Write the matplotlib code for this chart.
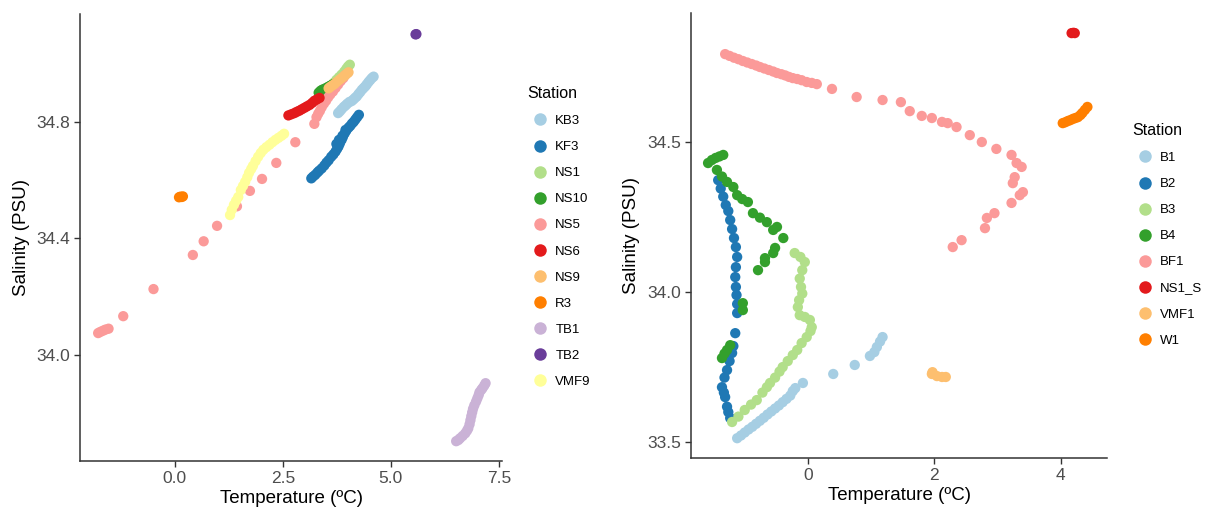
import matplotlib
matplotlib.use("Agg")
import matplotlib.pyplot as plt
from matplotlib.lines import Line2D

plt.rcParams['font.family'] = ['Liberation Sans', 'DejaVu Sans']

# ---------------- Left panel data ----------------
left_stations = ["KB3", "KF3", "NS1", "NS10", "NS5", "NS6", "NS9", "R3", "TB1", "TB2", "VMF9"]
left_colors = ["#A6CEE3", "#1F78B4", "#B2DF8A", "#33A02C", "#FB9A99", "#E31A1C",
               "#FDBF6F", "#FF7F00", "#CAB2D6", "#6A3D9A", "#FFFF99"]

KB3_T = [3.78, 3.82, 3.86, 3.91, 3.95, 3.99, 4.04, 4.09, 4.13, 4.17, 4.21, 4.25, 4.29, 4.33, 4.37, 4.41, 4.44, 4.48, 4.52, 4.56, 4.60]
KB3_S = [34.830, 34.836, 34.843, 34.851, 34.856, 34.862, 34.868, 34.871, 34.876, 34.882, 34.887, 34.895, 34.902, 34.910, 34.916, 34.922, 34.928, 34.936, 34.943, 34.950, 34.955]

KF3_T = [3.16, 3.20, 3.25, 3.30, 3.34, 3.40, 3.46, 3.51, 3.56, 3.62, 3.67, 3.72, 3.76, 3.79, 3.82, 3.86, 3.89, 3.93, 3.97, 4.02, 4.06, 4.10, 4.14, 4.18, 4.22, 4.26, 3.74, 3.80, 3.88, 3.95]
KF3_S = [34.606, 34.612, 34.618, 34.626, 34.632, 34.640, 34.650, 34.660, 34.668, 34.680, 34.688, 34.698, 34.708, 34.716, 34.726, 34.738, 34.748, 34.760, 34.770, 34.780, 34.786, 34.794, 34.800, 34.808, 34.816, 34.824, 34.724, 34.738, 34.752, 34.772]

NS1_T = [3.62, 3.68, 3.74, 3.80, 3.86, 3.92, 3.97, 4.01, 4.05]
NS1_S = [34.925, 34.934, 34.944, 34.953, 34.962, 34.972, 34.982, 34.990, 34.996]

NS10_T = [3.33, 3.37, 3.41, 3.45, 3.50, 3.55, 3.60, 3.65, 3.70, 3.74]
NS10_S = [34.900, 34.906, 34.910, 34.912, 34.916, 34.920, 34.924, 34.928, 34.931, 34.934]

NS5_T = [-1.77, -1.72, -1.66, -1.60, -1.53, -1.19, -0.49, 0.42, 0.67, 0.98, 1.44, 1.74, 2.02, 2.35, 2.79, 3.23,
         3.28, 3.32, 3.36, 3.40, 3.45, 3.50, 3.55, 3.60, 3.66, 3.72, 3.78, 3.84, 3.90, 3.94]
NS5_S = [34.075, 34.079, 34.083, 34.087, 34.090, 34.133, 34.226, 34.343, 34.390, 34.443, 34.510, 34.563, 34.604, 34.659, 34.730, 34.793,
         34.816, 34.828, 34.838, 34.850, 34.862, 34.872, 34.884, 34.894, 34.904, 34.916, 34.928, 34.940, 34.950, 34.960]

NS6_T = [2.63, 2.70, 2.77, 2.82, 2.88, 2.94, 3.00, 3.06, 3.12, 3.18, 3.23, 3.29, 3.35]
NS6_S = [34.822, 34.826, 34.830, 34.834, 34.838, 34.843, 34.848, 34.853, 34.858, 34.865, 34.872, 34.877, 34.882]

NS9_T = [3.56, 3.60, 3.65, 3.70, 3.75, 3.81, 3.86, 3.91, 3.95, 3.99, 4.02]
NS9_S = [34.915, 34.920, 34.925, 34.930, 34.937, 34.944, 34.950, 34.956, 34.961, 34.966, 34.970]

R3_T = [0.10, 0.13, 0.16, 0.19]
R3_S = [34.541, 34.543, 34.542, 34.544]

TB1_T = [6.51, 6.56, 6.60, 6.66, 6.72, 6.76, 6.79, 6.82, 6.84, 6.86, 6.88, 6.90, 6.93, 6.97, 7.00, 7.03, 7.05, 7.09, 7.12, 7.16, 7.19]
TB1_S = [33.704, 33.708, 33.714, 33.722, 33.731, 33.740, 33.748, 33.762, 33.776, 33.790, 33.803, 33.815, 33.827, 33.840, 33.851, 33.862, 33.872, 33.880, 33.886, 33.895, 33.903]

TB2_T = [5.57, 5.59]
TB2_S = [35.100, 35.101]

VMF9_T = [1.28, 1.32, 1.37, 1.42, 1.47, 1.53, 1.58, 1.63, 1.68, 1.72, 1.77, 1.81, 1.87, 1.93, 1.99, 2.05, 2.12, 2.19, 2.26, 2.33, 2.40, 2.47, 2.53]
VMF9_S = [34.480, 34.498, 34.515, 34.529, 34.542, 34.566, 34.580, 34.594, 34.610, 34.625, 34.638, 34.649, 34.665, 34.680, 34.693, 34.704, 34.713, 34.721, 34.730, 34.738, 34.745, 34.752, 34.759]

left_T = [KB3_T, KF3_T, NS1_T, NS10_T, NS5_T, NS6_T, NS9_T, R3_T, TB1_T, TB2_T, VMF9_T]
left_S = [KB3_S, KF3_S, NS1_S, NS10_S, NS5_S, NS6_S, NS9_S, R3_S, TB1_S, TB2_S, VMF9_S]
left_xticks = [0.0, 2.5, 5.0, 7.5]
left_xticklabels = ["0.0", "2.5", "5.0", "7.5"]
left_yticks = [34.0, 34.4, 34.8]
left_yticklabels = ["34.0", "34.4", "34.8"]

# ---------------- Right panel data ----------------
right_stations = ["B1", "B2", "B3", "B4", "BF1", "NS1_S", "VMF1", "W1"]
right_colors = ["#A6CEE3", "#1F78B4", "#B2DF8A", "#33A02C", "#FB9A99", "#E31A1C", "#FDBF6F", "#FF7F00"]

B1_T = [-1.12, -1.06, -1.00, -0.94, -0.88, -0.82, -0.76, -0.70, -0.64, -0.58, -0.52, -0.46, -0.40, -0.34, -0.28, -0.24, -0.20, -0.08, 0.40, 0.74, 0.98, 1.05, 1.09, 1.14, 1.18]
B1_S = [33.513, 33.522, 33.532, 33.542, 33.551, 33.561, 33.571, 33.581, 33.592, 33.602, 33.612, 33.622, 33.633, 33.644, 33.655, 33.670, 33.680, 33.697, 33.727, 33.757, 33.787, 33.800, 33.817, 33.835, 33.850]

B2_T = [-1.42, -1.38, -1.34, -1.30, -1.26, -1.23, -1.20, -1.17, -1.14, -1.12, -1.14, -1.15, -1.14, -1.13, -1.12, -1.12, -1.15, -1.18, -1.20, -1.24, -1.28, -1.32, -1.36, -1.33, -1.31, -1.28, -1.26, -1.23]
B2_S = [34.373, 34.345, 34.318, 34.290, 34.270, 34.240, 34.210, 34.180, 34.150, 34.117, 34.083, 34.050, 34.017, 33.990, 33.960, 33.930, 33.863, 33.820, 33.797, 33.770, 33.740, 33.715, 33.683, 33.665, 33.650, 33.618, 33.600, 33.580]

B3_T = [-1.20, -1.10, -1.00, -0.90, -0.81, -0.72, -0.65, -0.60, -0.52, -0.45, -0.40, -0.32, -0.24, -0.17, -0.10, -0.02, 0.04, 0.06, 0.03, -0.05, -0.13, -0.16, -0.14, -0.09, -0.11, -0.13, -0.09, -0.05, -0.12, -0.21]
B3_S = [33.567, 33.585, 33.607, 33.625, 33.640, 33.665, 33.683, 33.697, 33.715, 33.735, 33.750, 33.770, 33.790, 33.807, 33.830, 33.850, 33.870, 33.883, 33.907, 33.917, 33.923, 33.950, 33.973, 33.995, 34.017, 34.045, 34.073, 34.100, 34.117, 34.130]

B4_T = [-1.58, -1.52, -1.46, -1.40, -1.34, -1.44, -1.36, -1.28, -1.18, -1.12, -1.04, -0.95, -0.87, -0.76, -0.65, -0.49, -0.55, -0.39, -0.52, -0.68, -0.55, -0.68, -0.79, -1.03, -1.03, -1.23, -1.28, -1.32, -1.36]
B4_S = [34.430, 34.440, 34.447, 34.452, 34.457, 34.407, 34.385, 34.367, 34.350, 34.323, 34.310, 34.300, 34.263, 34.248, 34.233, 34.217, 34.207, 34.180, 34.147, 34.113, 34.130, 34.100, 34.073, 33.963, 33.940, 33.823, 33.807, 33.795, 33.780]

BF1_T = [-1.31, -1.24, -1.17, -1.10, -1.03, -0.96, -0.89, -0.82, -0.76, -0.69, -0.62, -0.55, -0.49, -0.42, -0.36, -0.30, -0.24, -0.17, -0.10, -0.02, 0.06, 0.14,
         0.38, 0.77, 1.18, 1.47, 1.61, 1.80, 1.96, 2.12, 2.21, 2.35, 2.56, 2.75, 2.98, 3.22, 3.30, 3.38, 3.27, 3.24, 3.40, 3.35, 3.22, 2.95, 2.83, 2.80, 2.43, 2.29]
BF1_S = [34.793, 34.787, 34.781, 34.776, 34.770, 34.765, 34.760, 34.755, 34.750, 34.745, 34.740, 34.735, 34.730, 34.726, 34.722, 34.717, 34.713, 34.710, 34.706, 34.700, 34.697, 34.693,
         34.677, 34.650, 34.640, 34.633, 34.603, 34.587, 34.580, 34.567, 34.563, 34.550, 34.523, 34.500, 34.477, 34.457, 34.430, 34.417, 34.383, 34.363, 34.333, 34.323, 34.297, 34.263, 34.247, 34.213, 34.173, 34.150]

NS1_S_T = [4.17, 4.20, 4.22]
NS1_S_S = [34.863, 34.864, 34.863]

VMF1_T = [1.96, 1.97, 2.04, 2.12, 2.18]
VMF1_S = [33.727, 33.733, 33.720, 33.717, 33.717]

W1_T = [4.03, 4.07, 4.11, 4.15, 4.19, 4.23, 4.27, 4.31, 4.34, 4.38, 4.42]
W1_S = [34.563, 34.566, 34.570, 34.573, 34.577, 34.580, 34.583, 34.590, 34.597, 34.607, 34.617]

right_T = [B1_T, B2_T, B3_T, B4_T, BF1_T, NS1_S_T, VMF1_T, W1_T]
right_S = [B1_S, B2_S, B3_S, B4_S, BF1_S, NS1_S_S, VMF1_S, W1_S]
right_xticks = [0, 2, 4]
right_xticklabels = ["0", "2", "4"]
right_yticks = [33.5, 34.0, 34.5]
right_yticklabels = ["33.5", "34.0", "34.5"]

# ---------------- Figure ----------------
W, H = 1210, 509
fig = plt.figure(figsize=(W / 100, H / 100), dpi=100)


def px_axes(x0, y0, x1, y1):
    return fig.add_axes([x0 / W, 1 - y1 / H, (x1 - x0) / W, (y1 - y0) / H])


def style(ax, xticks, xtl, yticks, ytl):
    for s in ["top", "right"]:
        ax.spines[s].set_visible(False)
    for s in ["left", "bottom"]:
        ax.spines[s].set_color("#333333")
        ax.spines[s].set_linewidth(1.1)
    ax.set_xticks(xticks)
    ax.set_xticklabels(xtl)
    ax.set_yticks(yticks)
    ax.set_yticklabels(ytl)
    ax.tick_params(axis="both", direction="out", length=4, width=1.0, color="#333333",
                   labelsize=12.5, labelcolor="#4D4D4D", pad=3)
    ax.set_xlabel("Temperature (ºC)", fontsize=13.5, color="black", labelpad=3)
    ax.set_ylabel("Salinity (PSU)", fontsize=13.5, color="black", labelpad=5)


def legend(stations, colors, x, y):
    handles = [Line2D([], [], marker="o", linestyle="none", markersize=9,
                      markerfacecolor=c, markeredgecolor="none") for c in colors]
    leg = fig.legend(handles, stations, title="Station", loc="upper left",
                     bbox_to_anchor=(x / W, 1 - y / H), frameon=False,
                     fontsize=9.5, title_fontsize=11.5, labelspacing=1.05,
                     handletextpad=0.15, handlelength=2.0, borderaxespad=0, borderpad=0)
    leg._legend_box.align = "left"


ax1 = px_axes(80, 14, 502, 461)
for t, s, c in zip(left_T, left_S, left_colors):
    ax1.scatter(t, s, s=55, color=c, edgecolors="none", zorder=3)
ax1.set_xlim(-2.19, 7.57)
ax1.set_ylim(33.636, 35.17)
style(ax1, left_xticks, left_xticklabels, left_yticks, left_yticklabels)
legend(left_stations, left_colors, 527, 86)

ax2 = px_axes(691, 13, 1107, 458)
for t, s, c in zip(right_T, right_S, right_colors):
    ax2.scatter(t, s, s=55, color=c, edgecolors="none", zorder=3)
ax2.set_xlim(-1.85, 4.73)
ax2.set_ylim(33.447, 34.93)
style(ax2, right_xticks, right_xticklabels, right_yticks, right_yticklabels)
legend(right_stations, right_colors, 1132, 123)

fig.savefig("out.png", dpi=100)
